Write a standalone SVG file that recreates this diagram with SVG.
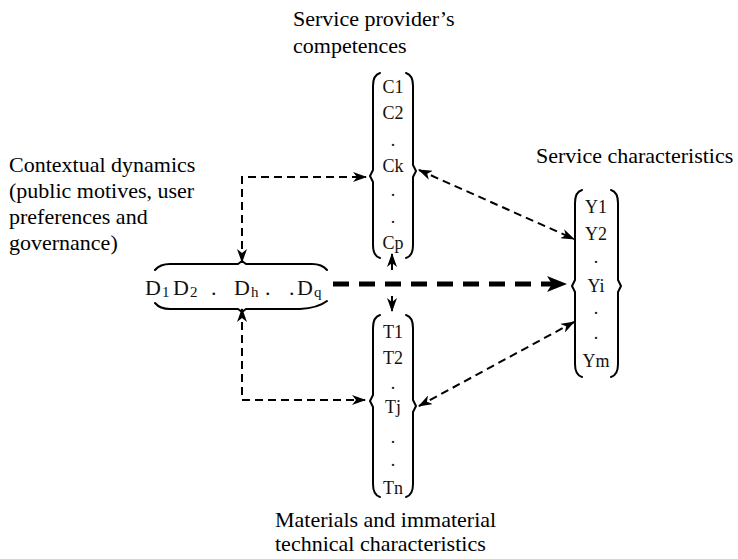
<svg xmlns="http://www.w3.org/2000/svg" width="738" height="559" viewBox="0 0 738 559">
  <style>
    text { font-family: "Liberation Serif", "Times New Roman", Times, "DejaVu Serif", serif; }
    .lbl { font-size: 22px; fill: #000; }
    .item { font-size: 18px; fill: #111; text-anchor: middle; }
    .d { font-size: 22px; fill: #111; }
    .sub { font-size: 15px; }
    .brace { fill: none; stroke: #000; stroke-width: 2; stroke-linejoin: round; stroke-linecap: round; }
    .thin { fill: none; stroke: #000; stroke-width: 2; stroke-dasharray: 8 5; }
    .thick { fill: none; stroke: #000; stroke-width: 5; stroke-dasharray: 16 10; }
  </style>
  <defs>
    <marker id="arr" viewBox="0 0 14 10" refX="13" refY="5" markerWidth="14" markerHeight="10" markerUnits="userSpaceOnUse" orient="auto-start-reverse">
      <path d="M0,0 L14,5 L0,10 L4,5 Z" fill="#000"/>
    </marker>
    <marker id="bigarr" viewBox="0 0 20 16" refX="19" refY="8" markerWidth="20" markerHeight="16" markerUnits="userSpaceOnUse" orient="auto">
      <path d="M0,0 L20,8 L0,16 L5,8 Z" fill="#000"/>
    </marker>
  </defs>

  <!-- captions -->
  <g id="lbl-competences">
    <text class="lbl" x="293" y="26" font-family="Liberation Serif, serif">Service provider’s</text>
    <text class="lbl" x="293" y="53" font-family="Liberation Serif, serif">competences</text>
  </g>
  <g id="lbl-context">
    <text class="lbl" x="9" y="172">Contextual dynamics</text>
    <text class="lbl" x="9" y="198">(public motives, user</text>
    <text class="lbl" x="9" y="224">preferences and</text>
    <text class="lbl" x="9" y="250">governance)</text>
  </g>
  <g id="lbl-service">
    <text class="lbl" x="536" y="163">Service characteristics</text>
  </g>
  <g id="lbl-technical">
    <text class="lbl" x="275" y="527">Materials and immaterial</text>
    <text class="lbl" x="275" y="551">technical characteristics</text>
  </g>

  <!-- competences vector C -->
  <g id="node-c">
    <path class="brace" d="M380,73 Q373,75 373,86 L373,170 L370,176 L373,182 L373,245 Q373,256 380,258"/>
    <path class="brace" d="M406,73 Q413,75 413,86 L413,165 L416,171 L413,177 L413,245 Q413,256 406,258"/>
    <text class="item" x="393" y="93">C1</text>
    <text class="item" x="393" y="119">C2</text>
    <text class="item" x="393" y="146">.</text>
    <text class="item" x="393" y="172">Ck</text>
    <text class="item" x="393" y="196">.</text>
    <text class="item" x="393" y="223">.</text>
    <text class="item" x="393" y="249">Cp</text>
  </g>

  <!-- technical vector T -->
  <g id="node-t">
    <path class="brace" d="M380,315 Q373,317 373,328 L373,395 L370,401 L373,407 L373,484 Q373,495 380,497"/>
    <path class="brace" d="M406,315 Q413,317 413,328 L413,400 L416,406 L413,412 L413,484 Q413,495 406,497"/>
    <text class="item" x="393" y="338">T1</text>
    <text class="item" x="393" y="364">T2</text>
    <text class="item" x="393" y="389">.</text>
    <text class="item" x="393" y="413">Tj</text>
    <text class="item" x="393" y="443">.</text>
    <text class="item" x="393" y="466">.</text>
    <text class="item" x="393" y="494">Tn</text>
  </g>

  <!-- service characteristics vector Y -->
  <g id="node-y">
    <path class="brace" d="M582,190 Q575,192 575,203 L575,280 L572,286 L575,292 L575,364 Q575,375 582,377"/>
    <path class="brace" d="M611,190 Q618,192 618,203 L618,280 L621,286 L618,292 L618,364 Q618,375 611,377"/>
    <text class="item" x="596" y="213">Y1</text>
    <text class="item" x="596" y="240">Y2</text>
    <text class="item" x="596" y="263">.</text>
    <text class="item" x="596" y="292">Yi</text>
    <text class="item" x="596" y="314">.</text>
    <text class="item" x="596" y="339">.</text>
    <text class="item" x="596" y="367">Ym</text>
  </g>

  <!-- contextual dynamics vector D -->
  <g id="node-d">
    <path class="brace" d="M155,270 Q160,264 170,264 L238,264 L242,261 L246,264 L312,264 Q322,264 327,270"/>
    <path class="brace" d="M155,303 Q160,309 170,309 L238,309 L242,312 L246,309 L300,309 Q318,308 327,301"/>
    <text class="d" x="145" y="295">D<tspan class="sub" dx="1" dy="2">1</tspan></text>
    <text class="d" x="173" y="295">D<tspan class="sub" dx="1" dy="2">2</tspan></text>
    <text class="d" x="211" y="295">.</text>
    <text class="d" x="234" y="295">D<tspan class="sub" dx="1" dy="2">h</tspan></text>
    <text class="d" x="265" y="295">.</text>
    <text class="d" x="289" y="295">.</text>
    <text class="d" x="297" y="295">D<tspan class="sub" dx="1" dy="2">q</tspan></text>
  </g>

  <!-- connectors -->
  <g id="connectors">
    <path class="thin" d="M242,262 L242,177 L366,177" marker-start="url(#arr)" marker-end="url(#arr)"/>
    <path class="thin" d="M242,309 L242,400 L365,400" marker-start="url(#arr)" marker-end="url(#arr)"/>
    <path class="thin" d="M419,170 L574,239" marker-start="url(#arr)" marker-end="url(#arr)"/>
    <path class="thin" d="M574,322 L419,406" marker-start="url(#arr)" marker-end="url(#arr)"/>
    <path class="thin" style="stroke-dasharray:none" d="M392,254 L392,270 M392,296 L392,311" marker-start="url(#arr)" marker-end="url(#arr)"/>
    <path class="thick" d="M333,284 L566,284" marker-end="url(#bigarr)"/>
  </g>
</svg>
